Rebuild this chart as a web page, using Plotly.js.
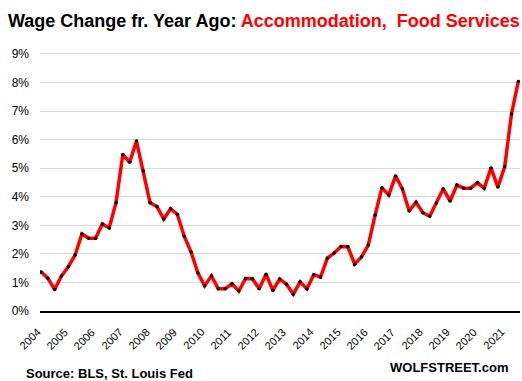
<!DOCTYPE html>
<html>
<head>
<meta charset="utf-8">
<script src="https://cdn.plot.ly/plotly-3.0.1.min.js"></script>
<style>html,body{margin:0;padding:0;background:#fff;}#chart{width:522px;height:381px;}</style>
</head>
<body>
<div id="chart"></div>
<script>
// Quarterly, 2004 Q1 to 2021 Q3: wage change from year ago (%)
const startYear = 2004;
const wageChange = [
  1.37, 1.15, 0.75, 1.23, 1.55, 1.96, 2.70, 2.55, 2.55, 3.05, 2.91, 3.79,
  5.48, 5.21, 5.95, 4.90, 3.79, 3.66, 3.22, 3.58, 3.38, 2.62, 2.07, 1.34,
  0.88, 1.23, 0.78, 0.78, 0.95, 0.70, 1.14, 1.13, 0.78, 1.29, 0.72, 1.12,
  0.94, 0.59, 1.02, 0.78, 1.27, 1.19, 1.85, 2.03, 2.26, 2.25, 1.64, 1.89,
  2.31, 3.36, 4.32, 4.06, 4.73, 4.27, 3.50, 3.81, 3.44, 3.32, 3.78, 4.28,
  3.85, 4.41, 4.30, 4.30, 4.49, 4.30, 5.01, 4.34, 5.05, 6.90, 8.04
];
const quarterTimes = wageChange.map((v, i) => startYear + i / 4);
const yearTicks = [2004,2005,2006,2007,2008,2009,2010,2011,2012,2013,2014,2015,2016,2017,2018,2019,2020,2021];
const yearLabels = yearTicks.map(String);
const pctTicks = [0,1,2,3,4,5,6,7,8,9];
const pctLabels = pctTicks.map(v => v + '%');

const trace = {
  x: quarterTimes,
  y: wageChange,
  type: 'scatter',
  mode: 'lines+markers',
  line: {color: '#ff0000', width: 3.5},
  marker: {color: '#000000', size: 3.5},
  hoverinfo: 'skip'
};

const FONT = 'Liberation Sans, Arial, sans-serif';

// rotated year labels placed on the x axis scale
const yearAnnotations = yearTicks.map((yr, i) => ({
  text: yearLabels[i],
  xref: 'x', yref: 'paper',
  x: yr, y: -14 / 271,
  xanchor: 'right', yanchor: 'top',
  xshift: 3,
  textangle: -45,
  showarrow: false,
  borderpad: 0,
  font: {family: FONT, size: 11, color: '#000'}
}));

const layout = {
  width: 522, height: 381,
  margin: {l: 40, r: 2, t: 40, b: 70},
  paper_bgcolor: '#ffffff',
  plot_bgcolor: '#ffffff',
  showlegend: false,
  font: {family: FONT, size: 12, color: '#000'},
  title: {
    text: '<b>Wage Change fr. Year Ago: <span style="color:#ff0000">Accommodation,&nbsp; Food Services</span></b>',
    font: {family: FONT, size: 18, color: '#000'},
    x: 8/522, xanchor: 'left', xref: 'container',
    y: 1 - 21/381, yanchor: 'middle', yref: 'container'
  },
  xaxis: {
    range: [2003.963, 2021.562],
    tickmode: 'array', tickvals: yearTicks,
    showticklabels: false,
    showgrid: false, zeroline: false,
    showline: true, linecolor: '#000', linewidth: 1.5,
    ticks: '', fixedrange: true
  },
  yaxis: {
    range: [0, 9.49],
    tickmode: 'array', tickvals: pctTicks, ticktext: pctLabels,
    tickfont: {family: FONT, size: 12, color: '#000'},
    showgrid: true, gridcolor: '#d9d9d9', gridwidth: 1,
    zeroline: false, showline: false, ticks: '',
    ticklabelstandoff: 10, fixedrange: true
  },
  annotations: yearAnnotations.concat([
    {
      text: '<b>Source: BLS, St. Louis Fed</b>',
      xref: 'paper', yref: 'paper',
      x: (24 - 40) / 480, y: (311 - 373) / 271,
      xanchor: 'left', yanchor: 'middle', showarrow: false,
      font: {family: FONT, size: 13, color: '#000'}
    },
    {
      text: '<b>WOLFSTREET.com</b>',
      xref: 'paper', yref: 'paper',
      x: (510 - 40) / 480, y: (311 - 367) / 271,
      xanchor: 'right', yanchor: 'middle', showarrow: false,
      font: {family: FONT, size: 13, color: '#000'}
    }
  ])
};

Plotly.newPlot('chart', [trace], layout, {displayModeBar: false, staticPlot: true});
</script>
</body>
</html>
